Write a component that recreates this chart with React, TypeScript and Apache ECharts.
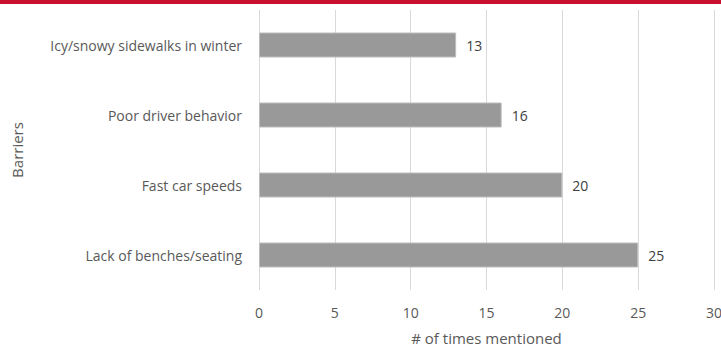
import React, { useEffect, useRef } from "react";
import * as echarts from "echarts";

const categories = [
  "Lack of benches/seating",
  "Fast car speeds",
  "Poor driver behavior",
  "Icy/snowy sidewalks in winter",
];
const values = [25, 20, 16, 13];
const xTicks = { min: 0, max: 30, interval: 5 };

const FONT = "'Open Sans', Lato, sans-serif";

export default function App() {
  const ref = useRef<HTMLDivElement>(null);
  useEffect(() => {
    if (!ref.current) return;
    const chart = echarts.init(ref.current, undefined, { renderer: "svg" });
    chart.setOption({
      animation: false,
      backgroundColor: "#ffffff",
      textStyle: { fontFamily: FONT },
      graphic: [
        {
          type: "rect",
          left: 0,
          top: 0,
          shape: { width: 721, height: 4 },
          style: { fill: "#C8102E" },
          z: 10,
        },
      ],
      grid: {
        left: 259,
        right: 7,
        top: 10,
        bottom: 58,
        containLabel: false,
        outerBoundsMode: "none",
      },
      xAxis: {
        type: "value",
        min: xTicks.min,
        max: xTicks.max,
        interval: xTicks.interval,
        name: "# of times mentioned",
        nameLocation: "middle",
        nameGap: 40,
        nameTextStyle: { color: "#595959", fontSize: 15, fontFamily: FONT },
        axisLine: { show: false },
        axisTick: { show: false },
        axisLabel: { color: "#595959", fontSize: 14, margin: 15, fontFamily: FONT },
        splitLine: { show: true, lineStyle: { color: "#d9d9d9", width: 1 } },
      },
      yAxis: {
        type: "category",
        data: categories,
        name: "Barriers",
        nameLocation: "middle",
        nameGap: 235,
        nameTextStyle: { color: "#595959", fontSize: 15, fontFamily: FONT },
        axisLine: { show: false },
        axisTick: { show: false },
        axisLabel: { color: "#595959", fontSize: 14, margin: 17, fontFamily: FONT },
        splitLine: { show: false },
      },
      series: [
        {
          type: "bar",
          data: values,
          barWidth: 25,
          itemStyle: { color: "#999999", borderColor: "#bdbdbd", borderWidth: 1 },
          label: {
            show: true,
            position: "right",
            distance: 10,
            color: "#404040",
            fontSize: 14,
            fontFamily: FONT,
          },
        },
      ],
    });
    return () => chart.dispose();
  }, []);
  return (
    <div
      ref={ref}
      style={{ position: "fixed", left: 0, top: 0, width: 721, height: 348 }}
    />
  );
}
